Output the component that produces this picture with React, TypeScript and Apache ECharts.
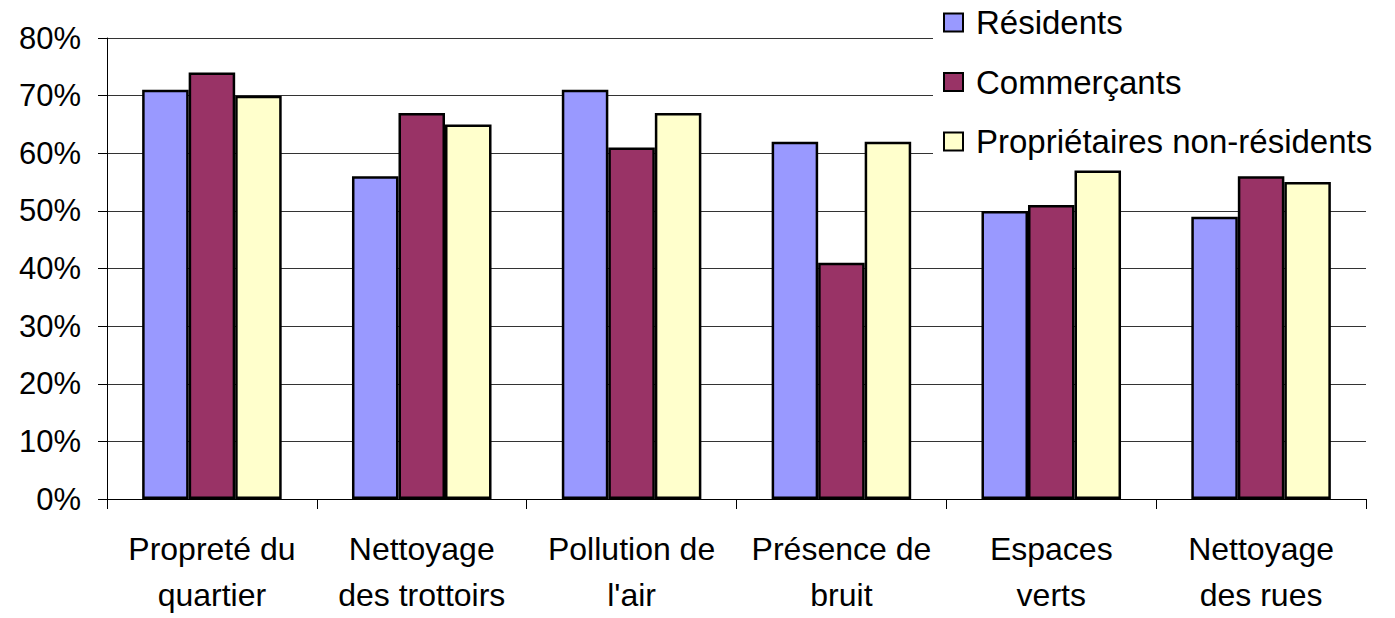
import React, { useEffect, useRef } from "react";
import * as echarts from "echarts";

const categories = [
  "Propreté du\nquartier",
  "Nettoyage\ndes trottoirs",
  "Pollution de\nl'air",
  "Présence de\nbruit",
  "Espaces\nverts",
  "Nettoyage\ndes rues",
];
const residents = [71, 56, 71, 62, 50, 49];
const commercants = [74, 67, 61, 41, 51, 56];
const proprietaires = [70, 65, 67, 62, 57, 55];
const seriesNames = ["Résidents", "Commerçants", "Propriétaires non-résidents"];
const colors = ["#9999FF", "#993366", "#FFFFCC"];

export default function App() {
  const ref = useRef<HTMLDivElement>(null);
  useEffect(() => {
    if (!ref.current) return;
    const chart = echarts.init(ref.current, null, {
      renderer: "svg",
      width: 1395,
      height: 618,
    });
    const font = "'Liberation Sans', Arial, sans-serif";
    const mk = (name: string, data: number[], color: string) => ({
      name,
      type: "bar",
      data,
      barGap: "0%",
      barCategoryGap: "33.5%",
      itemStyle: { color, borderColor: "#000", borderWidth: 2.5 },
    });
    chart.setOption({
      animation: false,
      backgroundColor: "#fff",
      grid: { left: 107, width: 1259, top: 38, height: 468, containLabel: false },
      legend: {
        orient: "vertical",
        left: 933,
        top: 0,
        padding: [6, 30, 8, 10],
        backgroundColor: "#fff",
        itemWidth: 19,
        itemHeight: 18,
        itemGap: 26.5,
        icon: "rect",
        itemStyle: { borderColor: "#000", borderWidth: 2 },
        textStyle: {
          fontFamily: font,
          fontSize: 33,
          lineHeight: 30,
          color: "#000",
          padding: [0, 0, 0, 8],
        },
        data: seriesNames,
      },
      xAxis: {
        type: "category",
        data: categories,
        axisLine: { lineStyle: { color: "#000", width: 1 } },
        axisTick: { show: true, length: 10, lineStyle: { color: "#000" } },
        axisLabel: {
          fontFamily: font,
          fontSize: 32,
          lineHeight: 46,
          color: "#000",
          margin: 27,
          interval: 0,
        },
      },
      yAxis: {
        type: "value",
        min: 0,
        max: 80,
        interval: 10,
        axisLine: { show: true, lineStyle: { color: "#000", width: 1 } },
        axisTick: { show: true, length: 9, lineStyle: { color: "#000" } },
        splitLine: { show: true, lineStyle: { color: "#333", width: 1 } },
        axisLabel: {
          formatter: "{value}%",
          fontFamily: font,
          fontSize: 31,
          color: "#000",
          margin: 26,
        },
      },
      series: [
        mk(seriesNames[0], residents, colors[0]),
        mk(seriesNames[1], commercants, colors[1]),
        mk(seriesNames[2], proprietaires, colors[2]),
      ],
    });
    return () => chart.dispose();
  }, []);
  return (
    <div
      ref={ref}
      style={{ position: "absolute", left: 0, top: 0, width: 1395, height: 618 }}
    />
  );
}
